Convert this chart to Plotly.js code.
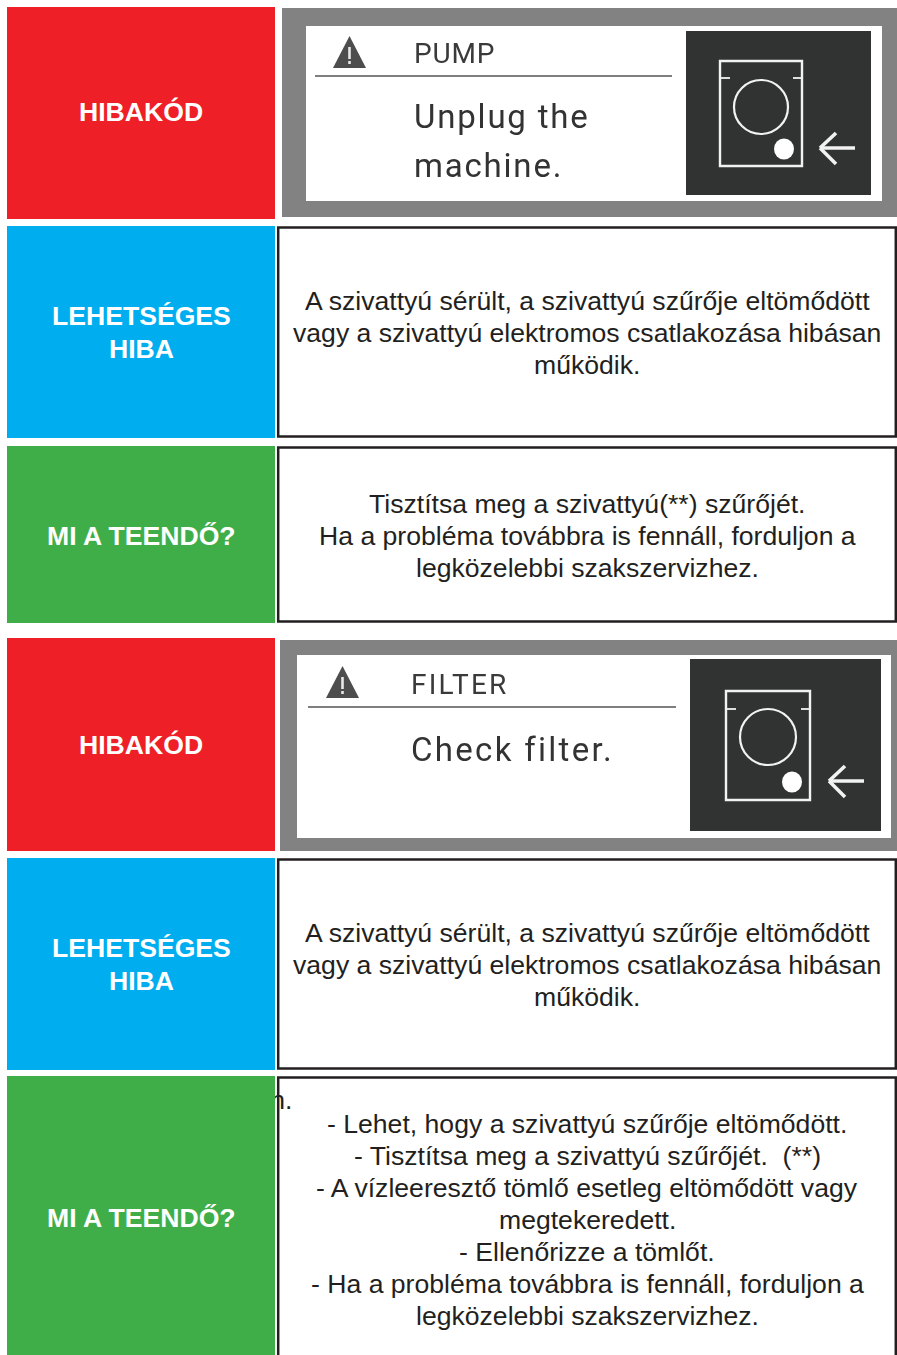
<!DOCTYPE html>
<html><head><meta charset="utf-8">
<script src="https://cdn.plot.ly/plotly-3.0.1.min.js"></script>
<style>html,body{margin:0;padding:0;background:#fff}#c{width:897px;height:1355px}</style>
</head><body><div id="c"></div>
<script>
const headers = ["HIBAKÓD", ["LEHETSÉGES", "HIBA"], "MI A TEENDŐ?"];
const causeLines = ["A szivattyú sérült, a szivattyú szűrője eltömődött", "vagy a szivattyú elektromos csatlakozása hibásan", "működik."];
const action1Lines = ["Tisztítsa meg a szivattyú(**) szűrőjét.", "Ha a probléma továbbra is fennáll, forduljon a", "legközelebbi szakszervizhez."];
const action2Lines = ["- Lehet, hogy a szivattyú szűrője eltömődött.", "- Tisztítsa meg a szivattyú szűrőjét.  (**)", "- A vízleeresztő tömlő esetleg eltömődött vagy", "megtekeredett.", "- Ellenőrizze a tömlőt.", "- Ha a probléma továbbra is fennáll, forduljon a", "legközelebbi szakszervizhez."];
const display1Title = "PUMP";
const display1Lines = ["Unplug the", "machine."];
const display2Title = "FILTER";
const display2Lines = ["Check filter."];
const strayText = "n.";

const RED="#ee1f26", BLUE="#00aeef", GREEN="#3fae49", INK="#231f20", GREY="#828282", DARK="#313333", LCD="#f2f2f2";
const shapes=[], annotations=[];
const lcdLayout={};
const rect=(x0,y0,x1,y1,fill,line,w)=>shapes.push({type:"rect",layer:"above",x0,y0,x1,y1,fillcolor:fill||"rgba(0,0,0,0)",line:{color:line||"rgba(0,0,0,0)",width:line?w:0}});
const seg=(x0,y0,x1,y1,c,w)=>shapes.push({type:"line",layer:"above",x0,y0,x1,y1,line:{color:c,width:w}});
const oval=(cx,cy,rx,ry,fill,line,w)=>shapes.push({type:"circle",layer:"above",x0:cx-rx,x1:cx+rx,y0:cy-ry,y1:cy+ry,fillcolor:fill||"rgba(0,0,0,0)",line:{color:line||"rgba(0,0,0,0)",width:line?w:0}});
const txt=(text,x,y,size,color,opts)=>annotations.push(Object.assign({text,x,y,xref:"x",yref:"y",showarrow:false,xanchor:"center",yanchor:"middle",font:{family:"Liberation Sans, Arial, sans-serif",size,color},borderpad:0},opts||{}));

function header(y0,y1,color,label,dy){
  rect(7,y0,275,y1,color);
  const lines=Array.isArray(label)?label:[label];
  const mid=(y0+y1)/2-(lines.length-1)*16.5+(dy||0);
  lines.forEach((l,i)=>txt("<b>"+l+"</b>",141,mid+i*33,26.6,"#ffffff"));
}
function box(y0,y1,lines,firstY){
  rect(278.2,y0,895.8,y1,null,INK,2.5);
  lines.forEach((l,i)=>txt(l,587,firstY+i*32,26.6,INK));
}
function display(p,title,lines){
  rect(p.x0,p.y0,897,p.y1,GREY);
  rect(p.wx0,p.wy0,p.wx1,p.wy1,"#ffffff");
  rect(p.dx0,p.dy0,p.dx1,p.dy1,DARK);
  seg(p.lx0,p.ly,p.lx1,p.ly,"#555555",1.4);
  shapes.push({type:"path",layer:"above",path:`M ${p.tx} ${p.ty+32} L ${p.tx+16.5} ${p.ty} L ${p.tx+33} ${p.ty+32} Z`,fillcolor:"#4d4d4d",line:{width:0}});
  rect(p.tx+15.2,p.ty+11,p.tx+17.8,p.ty+23,"#e8e8e8");
  rect(p.tx+15.2,p.ty+25,p.tx+17.8,p.ty+28,"#e8e8e8");
  const family="Roboto, Liberation Sans, sans-serif";
  txt(title,p.textX,p.titleY,28,"#3a3a3a",{xanchor:"left",font:{family,size:28,color:"#3a3a3a"}});
  lcdLayout[title]={left:p.textX,spacing:p.titleSpacing};
  lines.forEach((l,i)=>{
    txt(l,p.textX,p.lineY+i*49,33,"#333333",{xanchor:"left",font:{family,size:33,color:"#333333"}});
    lcdLayout[l]={left:p.textX,spacing:p.lineSpacing};
  });
  rect(p.mx0,p.my0,p.mx1,p.my1,null,LCD,2.4);
  seg(p.mx0,p.tickY,p.mx0+10,p.tickY,LCD,1.8);
  seg(p.mx1-9,p.tickY,p.mx1,p.tickY,LCD,1.8);
  oval(p.cx,p.cy,p.cr,p.cr,null,LCD,2.2);
  oval(p.ox,p.oy,10,10.5,"#ffffff");
  seg(p.ax,p.oy-1,p.ax+35,p.oy-1,LCD,3.6);
  seg(p.ax,p.oy-1,p.ax+16,p.oy-16,LCD,3.6);
  seg(p.ax,p.oy-1,p.ax+16,p.oy+15,LCD,3.6);
}

header(7,219,RED,headers[0],-1);
header(226,438,BLUE,headers[1]);
header(446,623,GREEN,headers[2],1);
header(638,851,RED,headers[0],0);
header(858,1070,BLUE,headers[1]);
header(1076,1360,GREEN,headers[2]);
box(227.5,436.5,causeLines,301);
box(447.5,621.5,action1Lines,504);
box(859.5,1068.5,causeLines,933);
box(1077.5,1362,action2Lines,1124);

display({x0:282,y0:8,y1:217,wx0:306,wy0:26,wx1:882,wy1:201,dx0:686,dy0:31,dx1:871,dy1:195,lx0:315,lx1:672,ly:76,tx:333,ty:36,textX:414,titleY:53,lineY:116,titleSpacing:0.8,lineSpacing:1.8,mx0:720,my0:61,mx1:802,my1:166,tickY:78,cx:761,cy:107,cr:27,ox:784,oy:149,ax:820},display1Title,display1Lines);
display({x0:280,y0:640,y1:851,wx0:297,wy0:655,wx1:891,wy1:838,dx0:690,dy0:659,dx1:881,dy1:831,lx0:308,lx1:676,ly:707,tx:326,ty:666,textX:411,titleY:684,lineY:749,titleSpacing:2.2,lineSpacing:2.3,mx0:726,my0:691,mx1:810,my1:800,tickY:709,cx:768,cy:737,cr:28,ox:792,oy:782,ax:829},display2Title,display2Lines);

const traces=[{type:"scatter",mode:"text",x:[292.5],y:[1102],text:[strayText],textposition:"middle left",textfont:{family:"Liberation Sans, Arial, sans-serif",size:26.6,color:INK},hoverinfo:"skip",showlegend:false}];
const layout={width:897,height:1355,margin:{l:0,r:0,t:0,b:0},paper_bgcolor:"#ffffff",plot_bgcolor:"#ffffff",showlegend:false,
  xaxis:{range:[0,897],visible:false,fixedrange:true},
  yaxis:{range:[1355,0],visible:false,fixedrange:true},
  shapes,annotations};
Plotly.newPlot("c",traces,layout,{displayModeBar:false,staticPlot:true}).then(()=>{
  document.querySelectorAll(".annotation-text").forEach(t=>{
    const cfg=lcdLayout[t.textContent];
    if(!cfg) return;
    t.style.letterSpacing=cfg.spacing+"px";
    t.style.filter="blur(0.45px)";
    const left=t.getBoundingClientRect().left;
    t.setAttribute("dx",cfg.left-left);
  });
});
</script></body></html>
